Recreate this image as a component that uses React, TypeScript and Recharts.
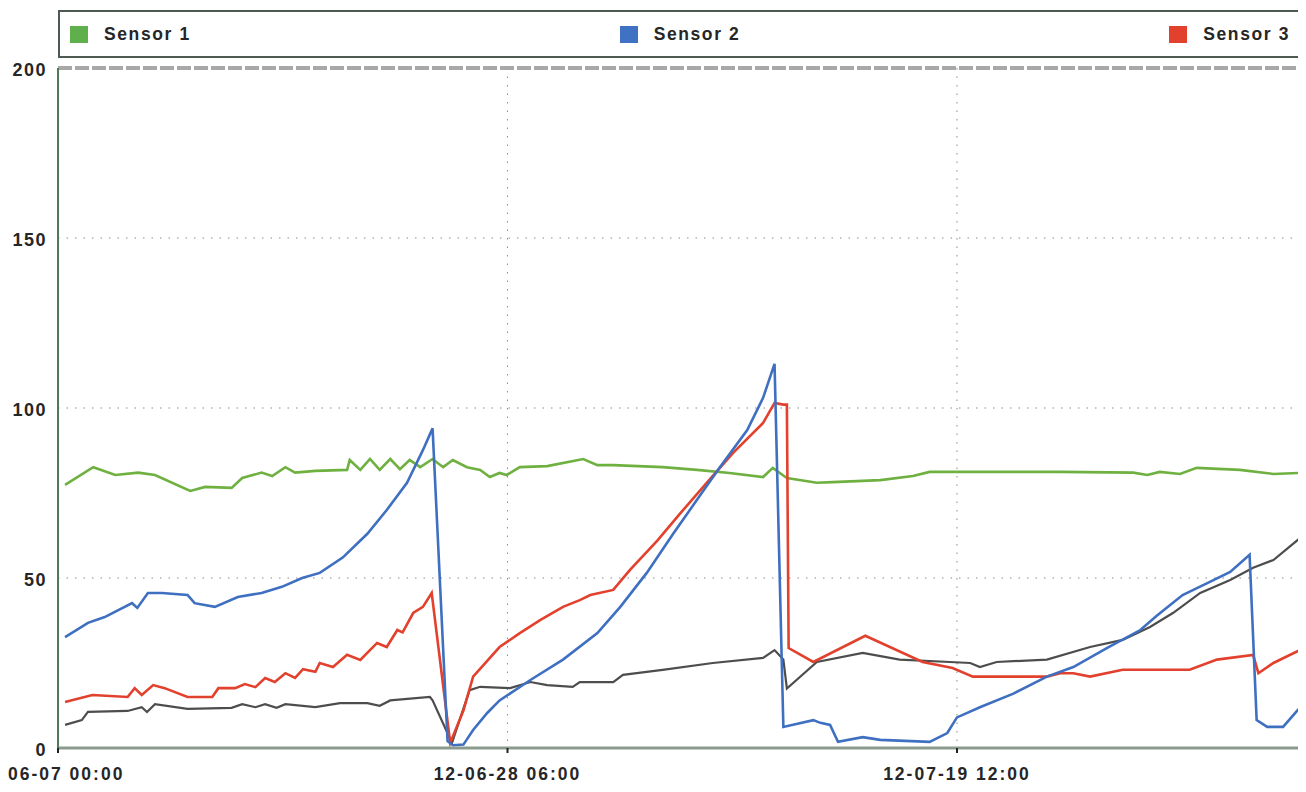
import React from "react";
import { LineChart, Line, XAxis, YAxis, CartesianGrid, ReferenceLine, Legend } from "recharts";

// time in hours since 12-06-07 00:00, value
const sensor1: [number, number][] = [
  [8, 77.4], [40, 82.6], [65, 80.3], [91, 81], [110, 80.3], [150, 75.6], [167, 76.8], [197, 76.5],
  [209, 79.4], [231, 81], [243, 80], [258, 82.6], [269, 81], [292, 81.5], [328, 81.8], [331, 84.7],
  [343, 81.8], [354, 85], [365, 81.8], [377, 85], [388, 82], [399, 84.7], [411, 82.6], [425, 85],
  [437, 82.6], [448, 84.7], [464, 82.6], [479, 81.8], [490, 79.7], [501, 80.9], [509, 80.3],
  [524, 82.6], [555, 82.9], [596, 85], [612, 83.2], [630, 83.2], [686, 82.6], [725, 81.8],
  [762, 80.9], [800, 79.7], [811, 82.4], [827, 79.4], [861, 78], [879, 78.2], [933, 78.8],
  [970, 80], [989, 81.2], [1137, 81.2], [1220, 81], [1236, 80.3], [1250, 81.2], [1273, 80.6],
  [1292, 82.4], [1341, 81.8], [1379, 80.6], [1416, 81],
];

const sensor2: [number, number][] = [
  [8, 32.6], [34, 36.8], [53, 38.5], [84, 42.6], [90, 41.2], [102, 45.6], [118, 45.6], [147, 45],
  [155, 42.6], [178, 41.5], [204, 44.4], [231, 45.6], [254, 47.4], [277, 50], [297, 51.5],
  [323, 56], [351, 63], [373, 70], [396, 78], [414, 87.6], [425, 94], [442, 2], [448, 0.8],
  [460, 1], [471, 5.3], [487, 10.3], [501, 14], [536, 20], [573, 26], [612, 33.8], [638, 41.5],
  [668, 51.5], [698, 63], [725, 73], [751, 82.6], [782, 93.5], [800, 103], [813, 113],
  [823, 6.2], [857, 8.2], [865, 7.4], [876, 6.8], [885, 1.8], [913, 3.2], [933, 2.4],
  [989, 1.8], [1009, 4.4], [1020, 9], [1046, 12], [1084, 16], [1122, 21], [1152, 23.8],
  [1190, 29.4], [1228, 34.7], [1247, 39], [1276, 45], [1304, 48.5], [1330, 51.8], [1352, 56.8],
  [1360, 8.2], [1372, 6.2], [1390, 6.2], [1406, 11], [1416, 13.5],
];

const sensor3: [number, number][] = [
  [8, 13.5], [39, 15.6], [79, 15], [87, 17.6], [95, 15.6], [108, 18.5], [121, 17.6], [147, 15],
  [175, 15], [182, 17.6], [201, 17.6], [212, 18.8], [224, 17.9], [235, 20.6], [246, 19.4],
  [258, 22], [269, 20.6], [278, 23.2], [292, 22.4], [297, 25], [312, 23.8], [328, 27.4],
  [343, 25.9], [362, 30.9], [373, 29.7], [385, 34.7], [391, 34], [403, 39.7], [414, 41.5],
  [424, 45.6], [445, 1.5], [460, 11], [471, 21], [501, 29.7], [524, 33.8], [547, 37.6],
  [573, 41.5], [592, 43.5], [604, 45], [630, 46.5], [649, 52.4], [680, 61], [706, 69],
  [736, 78], [766, 86.8], [800, 95.6], [813, 101.5], [823, 101], [827, 101], [829, 29.4],
  [857, 25.3], [916, 33], [981, 25.3], [1015, 23.5], [1038, 21], [1122, 21], [1137, 22],
  [1152, 22], [1171, 21], [1208, 23], [1284, 23], [1315, 26], [1356, 27.4], [1362, 22],
  [1379, 25], [1416, 29.7],
];

const sensor4: [number, number][] = [
  [8, 6.8], [27, 8.2], [34, 10.6], [79, 10.9], [95, 12], [101, 10.6], [110, 12.9], [147, 11.5],
  [197, 11.8], [209, 12.9], [224, 12], [235, 12.9], [248, 11.8], [258, 12.9], [292, 12],
  [320, 13.2], [351, 13.2], [365, 12.4], [377, 14], [422, 15], [425, 14], [447, 1.5], [467, 17],
  [479, 18], [513, 17.6], [536, 19.4], [555, 18.5], [584, 18], [592, 19.4], [630, 19.4],
  [641, 21.5], [686, 23], [743, 25], [800, 26.5], [813, 28.8], [823, 26], [827, 17.5],
  [861, 25.3], [913, 28], [955, 26], [1012, 25.3], [1035, 25], [1046, 23.8], [1065, 25.3],
  [1122, 26], [1171, 29.7], [1208, 31.8], [1239, 35.6], [1265, 39.7], [1296, 45.6],
  [1330, 49.4], [1356, 53], [1379, 55.3], [1416, 63.2],
];

const xTicks = [0, 510, 1020];
const xTickLabels = ["06-07 00:00", "12-06-28 06:00", "12-07-19 12:00"];
const yTicks = [0, 50, 100, 150, 200];

const legendItems = [
  { name: "Sensor 1", color: "#5fb04c" },
  { name: "Sensor 2", color: "#3f72c2" },
  { name: "Sensor 3", color: "#e2412d" },
];

const toRows = (pts: [number, number][]) => pts.map(([t, v]) => ({ t, v }));

const FONT = "'Liberation Sans', Arial, sans-serif";

const XTick = (props: any) => {
  const { x, y, payload, index } = props;
  const i = xTicks.indexOf(payload.value);
  const label = xTickLabels[i >= 0 ? i : index];
  const first = i === 0;
  return (
    <text
      x={first ? 0 : x}
      y={y}
      dy="0.71em"
      textAnchor={first ? "start" : "middle"}
      fontFamily={FONT}
      fontWeight={700}
      fontSize={17.5}
      letterSpacing={2}
      fill="#262626"
    >
      {label}
    </text>
  );
};

const LegendBox = () => (
  <div
    style={{
      position: "absolute",
      left: 50,
      top: 2,
      width: 1248,
      height: 48,
      boxSizing: "border-box",
      borderTop: "2px solid #4d5a52",
      borderBottom: "2px solid #4d5a52",
      borderLeft: "2px solid #4d5a52",
      display: "flex",
      alignItems: "center",
      justifyContent: "space-between",
      padding: "0 16px 0 10px",
      fontFamily: FONT,
      fontWeight: 700,
      fontSize: 17.5,
      letterSpacing: 1.6,
      color: "#262626",
    }}
  >
    {legendItems.map((it) => (
      <div key={it.name} style={{ display: "flex", alignItems: "center" }}>
        <span style={{ display: "inline-block", width: 18, height: 17, background: it.color, marginRight: 16 }} />
        <span>{it.name}</span>
      </div>
    ))}
  </div>
);

export default function App() {
  return (
    <div style={{ position: "relative", width: 1298, height: 784 }}>
      <LineChart width={1298} height={784} margin={{ top: 60, right: 0, left: 0, bottom: 0 }}>
        <CartesianGrid
          horizontal
          vertical
          stroke="#8a8a8a"
          strokeDasharray="1.5 7"
          horizontalValues={[50, 100, 150]}
          verticalValues={[510, 1020]}
        />
        <XAxis
          dataKey="t"
          type="number"
          domain={[0, 1416]}
          ticks={xTicks}
          allowDuplicatedCategory={false}
          height={44}
          axisLine={{ stroke: "#8a9a8c", strokeWidth: 3 }}
          tickLine={{ stroke: "#222", strokeWidth: 2 }}
          tickSize={5}
          tickMargin={15}
          tick={<XTick />}
          interval={0}
        />
        <YAxis
          type="number"
          domain={[0, 200]}
          ticks={yTicks}
          width={50}
          axisLine={{ stroke: "#4f7a5a", strokeWidth: 2 }}
          tickLine={false}
          tickSize={0}
          tickMargin={11}
          interval={0}
          tick={{ fontFamily: FONT, fontWeight: 700, fontSize: 18, fill: "#262626", letterSpacing: 1.5, dy: 2 }}
        />
        <ReferenceLine y={200} stroke="#a8a8a8" strokeWidth={4} strokeDasharray="14 3" />
        <Legend content={() => null} />
        <Line data={toRows(sensor4)} dataKey="v" name="Sensor 4" stroke="#4d4d4d" strokeWidth={2.2} dot={false} isAnimationActive={false} type="linear" legendType="none" />
        <Line data={toRows(sensor1)} dataKey="v" name="Sensor 1" stroke="#6fb141" strokeWidth={2.6} dot={false} isAnimationActive={false} type="linear" />
        <Line data={toRows(sensor3)} dataKey="v" name="Sensor 3" stroke="#e2412d" strokeWidth={2.6} dot={false} isAnimationActive={false} type="linear" />
        <Line data={toRows(sensor2)} dataKey="v" name="Sensor 2" stroke="#3f6fc0" strokeWidth={2.6} dot={false} isAnimationActive={false} type="linear" />
      </LineChart>
      <LegendBox />
    </div>
  );
}
